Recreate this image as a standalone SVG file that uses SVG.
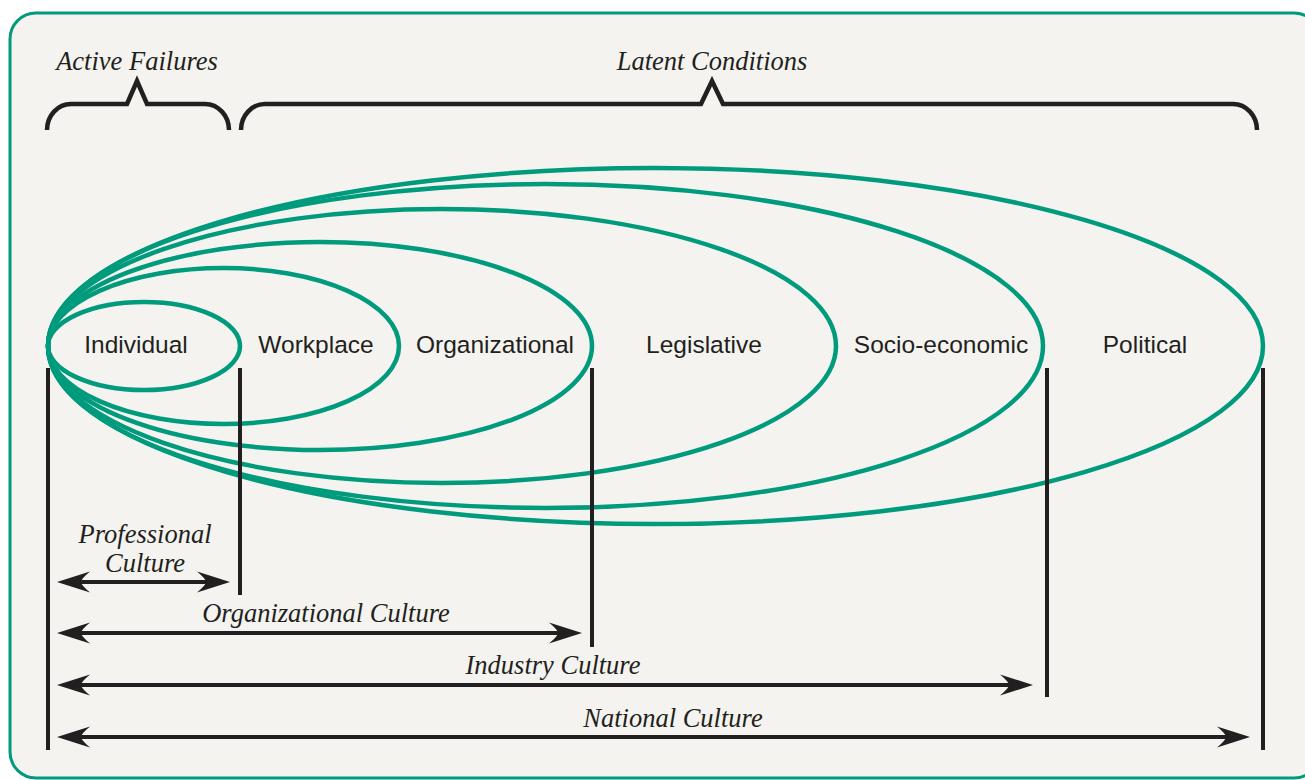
<svg xmlns="http://www.w3.org/2000/svg" width="1305" height="780" viewBox="0 0 1305 780">
<style>
.frame{fill:#f4f3ef;stroke:#009a7c;stroke-width:3}
.ring{fill:none;stroke:#009a7c;stroke-width:4.5}
.ink{fill:none;stroke:#231f20;stroke-width:4}
.brace{fill:none;stroke:#231f20;stroke-width:4.5;stroke-linejoin:miter}
.node{font-family:"Liberation Sans",Arial,sans-serif;font-size:24.5px;fill:#231f20;text-anchor:middle}
.it{font-family:"Liberation Serif","Times New Roman",serif;font-style:italic;font-size:26.5px;fill:#231f20;text-anchor:middle}
</style>
<defs>
<marker id="arr" markerUnits="userSpaceOnUse" viewBox="-20 -12 45 24" refX="0" refY="0" markerWidth="45" markerHeight="24" orient="auto-start-reverse">
<path d="M20,0 L-13,-10.5 Q-4,-3 -4,0 Q-4,3 -13,10.5 Z" fill="#231f20"/>
</marker>
</defs>
<rect class="frame" x="10" y="13" width="1310" height="765" rx="26" ry="26"/>

<g id="braces">
<path class="brace" d="M47,130 A24,26 0 0 1 71,104 L127,104 L137,81 L147,104 L205,104 A24,26 0 0 1 229,130"/>
<path class="brace" d="M241,130 A24,26 0 0 1 265,104 L701,104 L712,81 L723,104 L1233,104 A24,26 0 0 1 1257,130"/>
<text class="it" x="137" y="70">Active Failures</text>
<text class="it" x="712" y="70">Latent Conditions</text>
</g>

<g id="political">
<ellipse class="ring" cx="655.5" cy="346" rx="607.5" ry="178"/>
<text class="node" x="1145" y="353">Political</text>
</g>
<g id="socio-economic">
<ellipse class="ring" cx="545.5" cy="346" rx="497.5" ry="162"/>
<text class="node" x="941" y="353">Socio-economic</text>
</g>
<g id="legislative">
<ellipse class="ring" cx="442" cy="346" rx="394" ry="137"/>
<text class="node" x="704" y="353">Legislative</text>
</g>
<g id="organizational">
<ellipse class="ring" cx="320" cy="346" rx="272" ry="104"/>
<text class="node" x="495" y="353">Organizational</text>
</g>
<g id="workplace">
<ellipse class="ring" cx="223.5" cy="346" rx="175.5" ry="78"/>
<text class="node" x="316" y="353">Workplace</text>
</g>
<g id="individual">
<ellipse class="ring" cx="144" cy="346" rx="96" ry="44"/>
<text class="node" x="136" y="353">Individual</text>
</g>

<g id="connectors">
<line class="ink" x1="48" y1="368" x2="48" y2="750"/>
<line class="ink" x1="240" y1="368" x2="240" y2="595"/>
<line class="ink" x1="592" y1="368" x2="592" y2="647"/>
<line class="ink" x1="1047" y1="368" x2="1047" y2="697"/>
<line class="ink" x1="1263" y1="368" x2="1263" y2="750"/>
<line class="ink" x1="77" y1="582" x2="210" y2="582" marker-start="url(#arr)" marker-end="url(#arr)"/>
<line class="ink" x1="77" y1="633" x2="562" y2="633" marker-start="url(#arr)" marker-end="url(#arr)"/>
<line class="ink" x1="77" y1="685" x2="1013" y2="685" marker-start="url(#arr)" marker-end="url(#arr)"/>
<line class="ink" x1="77" y1="737" x2="1230" y2="737" marker-start="url(#arr)" marker-end="url(#arr)"/>
</g>

<g id="culture-labels">
<text class="it" x="145" y="543">Professional</text>
<text class="it" x="145" y="572">Culture</text>
<text class="it" x="326" y="622">Organizational Culture</text>
<text class="it" x="553" y="674">Industry Culture</text>
<text class="it" x="673" y="727">National Culture</text>
</g>
</svg>
